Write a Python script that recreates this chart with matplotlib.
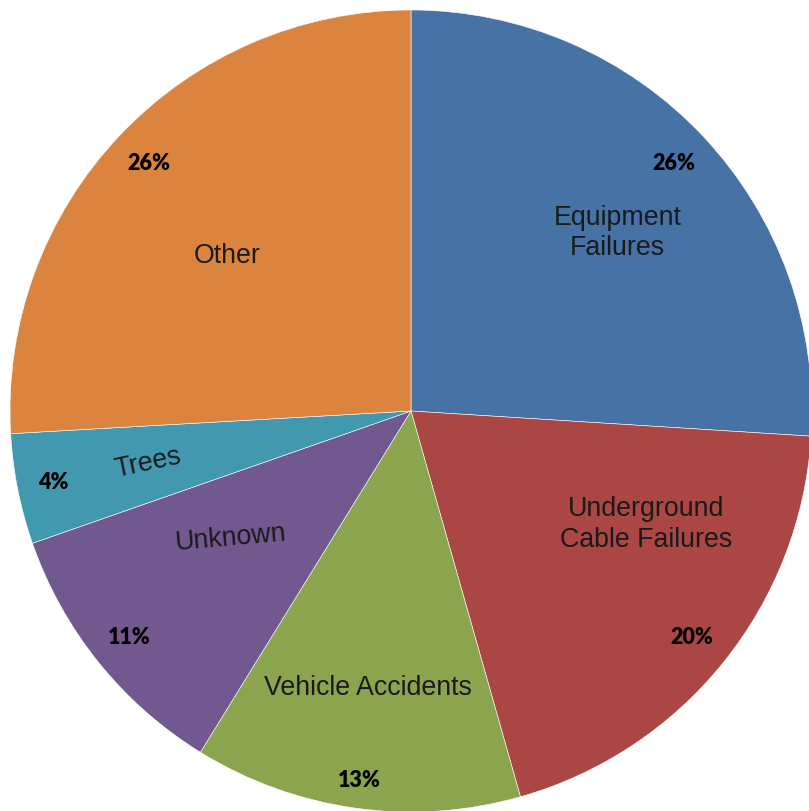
import numpy as np
import matplotlib
matplotlib.use("Agg")
from matplotlib import pyplot as plt

# outage causes, share in percent (clockwise from 12 o'clock)
causes = ["Equipment\nFailures", "Underground\nCable Failures", "Vehicle Accidents",
          "Unknown", "Trees", "Other"]
shares = [26.0, 19.6, 13.2, 10.85, 4.45, 25.9]
colors = ["#4672A6", "#AA4644", "#8AA54E", "#71588F", "#4298AF", "#DA843F"]

# label placement tweaks (radius as fraction of pie, angle shift in degrees, rotation)
label_r = [0.68, 0.65, 0.70, 0.55, 0.67, 0.60]
label_shift = [-2.5, 13.1, -0.9, -3.5, 0.0, 3.2]
label_rot = [0, 0, 0, 5, 12, 0]
pct_r = [0.90, 0.90, 0.93, 0.90, 0.91, 0.90]

fig = plt.figure(figsize=(8.09, 8.11), dpi=100)
ax = fig.add_axes([0, 0, 1, 1])

wedges, texts, autotexts = ax.pie(
    shares, labels=causes, colors=colors, startangle=90, counterclock=False,
    autopct="%1.0f%%", radius=1.0,
    wedgeprops=dict(edgecolor="white", linewidth=0.4),
    textprops=dict(color="#1a1a1a"))

for i, w in enumerate(wedges):
    mid = (w.theta1 + w.theta2) / 2
    a = np.deg2rad(mid + label_shift[i])
    texts[i].set_position((label_r[i] * np.cos(a), label_r[i] * np.sin(a)))
    texts[i].set_ha("center")
    texts[i].set_va("center")
    texts[i].set_multialignment("center")
    texts[i].set_rotation(label_rot[i])
    texts[i].set_fontsize(19.3)
    texts[i].set_family("Liberation Sans")
    texts[i].set_linespacing(1.22)
    b = np.deg2rad(mid)
    autotexts[i].set_position((pct_r[i] * np.cos(b), pct_r[i] * np.sin(b)))
    autotexts[i].set_fontsize(15.5)
    autotexts[i].set_family("Lato")
    autotexts[i].set_weight("heavy")
    autotexts[i].set_color("black")

ax.set_xlim(-411 / 401, 398 / 401)
ax.set_ylim(-400 / 401, 411 / 401)
ax.set_aspect("equal")
ax.axis("off")

fig.savefig("out.png", dpi=100)
